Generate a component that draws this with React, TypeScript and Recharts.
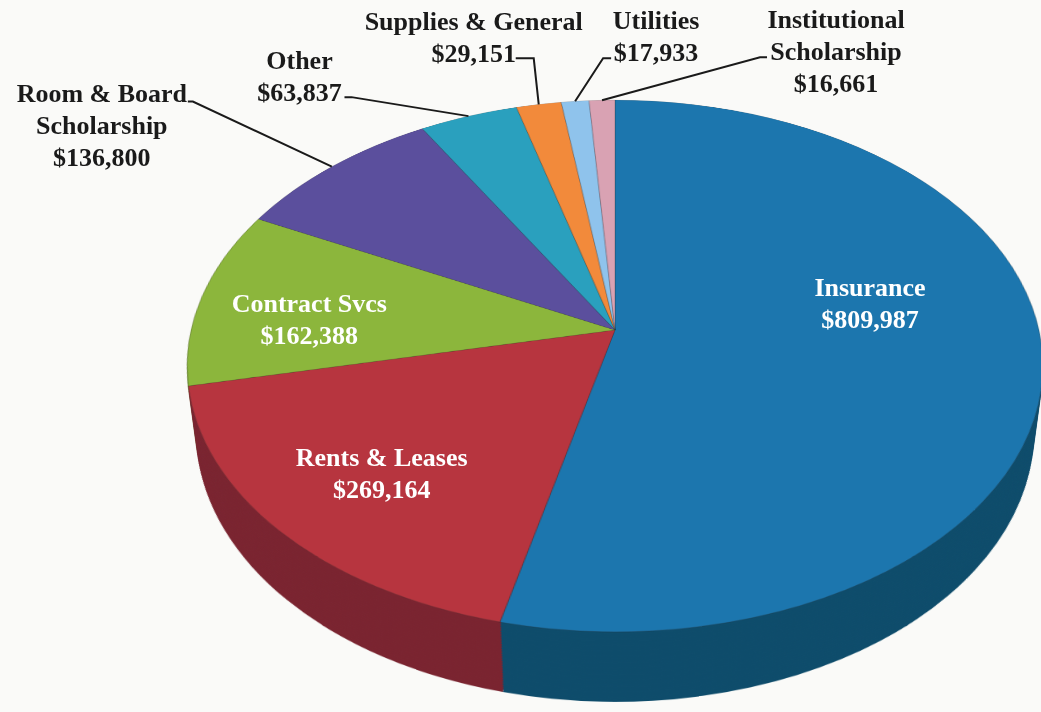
import React from 'react';
import { PieChart, Pie, Cell } from 'recharts';

// expense categories, clockwise from 12 o'clock
const CATEGORIES = [
  'Insurance',
  'Rents & Leases',
  'Contract Svcs',
  'Room & Board Scholarship',
  'Other',
  'Supplies & General',
  'Utilities',
  'Institutional Scholarship',
];
const AMOUNTS = [809987, 269164, 162388, 136800, 63837, 29151, 17933, 16661];
const LABEL_LINES = [
  ['Insurance'],
  ['Rents & Leases'],
  ['Contract Svcs'],
  ['Room & Board', 'Scholarship'],
  ['Other'],
  ['Supplies & General'],
  ['Utilities'],
  ['Institutional', 'Scholarship'],
];

const TOP_COLORS = ['#1c76ae', '#b7353f', '#8cb63c', '#5b4f9d', '#2aa0be', '#f28a3b', '#8fc3ec', '#d9a2b3'];
const SIDE_COLORS = ['#0e4c6b', '#7a2430', '#5f7d27', '#3d3470', '#1b6d84', '#a65e26', '#5f8aa8', '#9a6f7d'];

// label placement: anchor at r * outerRadius on the slice, text offset from it
const LAYOUT: any[] = [
  { r: 0.6, dx: 0, dy: -62, inside: true },
  { r: 0.6, dx: -40, dy: 11, inside: true },
  { r: 0.6, dx: -56, dy: -7, inside: true },
  { r: 1, dx: -230, dy: -74, elbow: [-139, -65], stub: [-144, -65] },
  { r: 1, dx: -169, dy: -56, elbow: [-117, -19], stub: [-124, -19] },
  { r: 1, dx: -65, dy: -83, elbow: [-5, -46], stub: [-23, -46] },
  { r: 1, dx: 81, dy: -81, elbow: [28, -43], stub: [36, -43] },
  { r: 1, dx: 234, dy: -81, elbow: [158, -43], stub: [165, -43] },
];

const data = CATEGORIES.map((name, i) => ({ name, value: AMOUNTS[i] }));

const W = 1041;
const H = 712;
const CX = 615;
const CY = 330;
const R = 424;
const S = 2 * R + 20;
const TILT = 52;
const D = 2470;
const DEPTH = 87;
const STEP = 3;
const FONT = "'Liberation Serif', 'Times New Roman', serif";

const sinT = Math.sin((TILT * Math.PI) / 180);
const cosT = Math.cos((TILT * Math.PI) / 180);

// project a point of the tilted pie plane onto the screen
function project(cx: number, cy: number, r: number, angDeg: number) {
  const a = (angDeg * Math.PI) / 180;
  const u = r * Math.cos(a);
  const v = r * Math.sin(a);
  const sc = D / (D + v * sinT);
  return [cx + u * sc, cy - v * cosT * sc];
}

const fmt = (v: number) => '$' + v.toLocaleString('en-US');

const renderLabel = (p: any) => {
  const i = p.index;
  const L = LAYOUT[i];
  const [ax, ay] = project(p.cx, p.cy, p.outerRadius * L.r, p.midAngle);
  const lines = [...LABEL_LINES[i], fmt(AMOUNTS[i])];
  return (
    <g key={`lbl-${i}`}>
      {!L.inside && (
        <path
          d={`M${ax},${ay} L${ax + L.elbow[0]},${ay + L.elbow[1]} L${ax + L.stub[0]},${ay + L.stub[1]}`}
          stroke="#1a1a1a"
          strokeWidth={2}
          fill="none"
        />
      )}
      {lines.map((t, j) => (
        <text
          key={j}
          x={ax + L.dx}
          y={ay + L.dy + j * 32 + 9}
          textAnchor="middle"
          fontFamily={FONT}
          fontWeight="bold"
          fontSize={26}
          fill={L.inside ? '#ffffff' : '#1a1a1a'}
        >
          {t}
        </text>
      ))}
    </g>
  );
};

function PieLayer({ colors, z, top }: { colors: string[]; z: number; top?: boolean }) {
  return (
    <div
      style={{
        position: 'absolute',
        left: 0,
        top: 0,
        width: S,
        height: S,
        transform: `rotateX(${TILT}deg) translateZ(${-z}px)`,
        transformOrigin: '50% 50%',
      }}
    >
      <PieChart width={S} height={S} margin={{ top: 0, right: 0, bottom: 0, left: 0 }}>
        <Pie
          data={data}
          dataKey="value"
          nameKey="name"
          cx={S / 2}
          cy={S / 2}
          outerRadius={R}
          startAngle={90}
          endAngle={-270}
          isAnimationActive={false}
          stroke={top ? 'rgba(40,40,40,0.25)' : 'none'}
          strokeWidth={1}
        >
          {data.map((_, idx) => (
            <Cell key={idx} fill={colors[idx]} />
          ))}
        </Pie>
      </PieChart>
    </div>
  );
}

export default function App() {
  const sideLayers: number[] = [];
  for (let z = DEPTH; z > 0; z -= STEP) sideLayers.push(z);

  return (
    <div style={{ position: 'relative', width: W, height: H, overflow: 'hidden', background: '#fafaf8' }}>
      <style>{'body{margin:0}'}</style>
      <div
        style={{
          position: 'absolute',
          left: CX - S / 2,
          top: CY - S / 2,
          width: S,
          height: S,
          perspective: `${D}px`,
          perspectiveOrigin: '50% 50%',
        }}
      >
        {sideLayers.map((z) => (
          <PieLayer key={z} colors={SIDE_COLORS} z={z} />
        ))}
        <PieLayer colors={TOP_COLORS} z={0} top />
      </div>
      <div style={{ position: 'absolute', left: 0, top: 0, zIndex: 2 }}>
        <PieChart width={W} height={H} margin={{ top: 0, right: 0, bottom: 0, left: 0 }}>
          <Pie
            data={data}
            dataKey="value"
            nameKey="name"
            cx={CX}
            cy={CY}
            outerRadius={R}
            startAngle={90}
            endAngle={-270}
            fill="none"
            stroke="none"
            label={renderLabel}
            labelLine={false}
            isAnimationActive={false}
          />
        </PieChart>
      </div>
    </div>
  );
}
